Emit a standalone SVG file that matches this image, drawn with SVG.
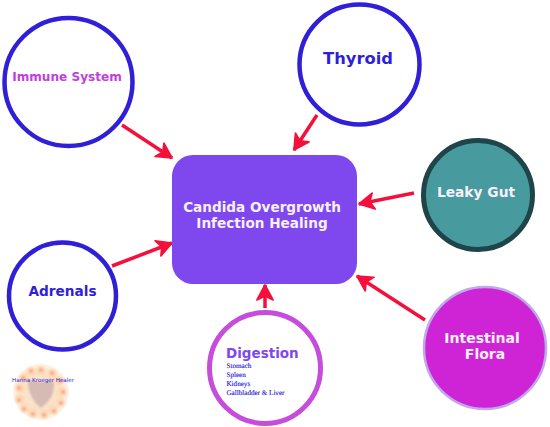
<svg xmlns="http://www.w3.org/2000/svg" width="550" height="427" viewBox="0 0 550 427">
<style>
text{font-family:"DejaVu Sans",sans-serif;font-weight:bold}
.m{text-anchor:middle}
.w{fill:#f7f0fb}
.b{fill:#2f1fd8}
.ring{fill:#fff;stroke:#2f1fd8;stroke-width:4.500}
.c{fill:none;stroke:#f5103c;stroke-width:3.500;marker-end:url(#a)}
.s{font-family:"Liberation Serif",serif;font-size:7.100px;font-weight:normal;fill:#2f1fd8;stroke:#2f1fd8;stroke-width:.15;text-rendering:geometricPrecision}
.o{fill:#fdd9b4;opacity:.9}
.p{fill:#f98f80;opacity:.8}
</style>
<defs>
<marker id="a" markerUnits="userSpaceOnUse" markerWidth="23" markerHeight="23" refX="17" refY="10" orient="auto" viewBox="0 0 20 20">
<path d="M4 3L17 10L4 17L7.500 10Z" fill="#f5103c" stroke="#f5103c" stroke-width="1.500" stroke-linejoin="round"/>
</marker>
<filter id="f" x="-20%" y="-20%" width="140%" height="140%"><feGaussianBlur stdDeviation="1"/></filter>
<radialGradient id="g"><stop offset=".6" stop-color="#fbe2cb"/><stop offset="1" stop-color="#fdf3e6"/></radialGradient>
</defs>
<rect width="550" height="427" fill="#fff"/>
<g id="connectors">
<path class="c" d="M122 125L172 158"/>
<path class="c" d="M317 115L294 150"/>
<path class="c" d="M414 193L359 204"/>
<path class="c" d="M425 320L357 276"/>
<path class="c" d="M112 266L172 243"/>
<path class="c" d="M265 308V285"/>
</g>
<g id="center"><rect x="172" y="155" width="185" height="129" rx="21" fill="#7f48ee"/>
<text class="m w" x="262" y="212" font-size="13.600">Candida Overgrowth</text>
<text class="m w" x="262" y="228" font-size="13.600">Infection Healing</text></g>
<g id="immune"><circle class="ring" cx="68.500" cy="82" r="64"/><text class="m" x="67" y="81" font-size="12.100" fill="#c040dc">Immune System</text></g>
<g id="thyroid"><circle class="ring" cx="359.500" cy="64.500" r="60"/><text class="m b" x="358" y="64" font-size="16.300">Thyroid</text></g>
<g id="leaky"><circle cx="478" cy="195" r="54.500" fill="#479a9e" stroke="#1f4449" stroke-width="5"/><text class="m w" x="476" y="197" font-size="13.800">Leaky Gut</text></g>
<g id="flora"><circle cx="485" cy="348" r="61" fill="#cf24d6" stroke="#c0a8ec" stroke-width="2.500"/>
<text class="m w" x="482" y="343" font-size="14">Intestinal</text><text class="m w" x="485" y="359" font-size="14">Flora</text></g>
<g id="adrenals"><circle class="ring" cx="62.500" cy="296" r="53.500"/><text class="m b" x="62.500" y="296" font-size="13.700">Adrenals</text></g>
<g id="digestion"><circle cx="265" cy="368" r="55.500" fill="#fff" stroke="#c64ddc" stroke-width="5"/>
<text x="226" y="358" font-size="13.500" fill="#7f48ee">Digestion</text>
<text class="s" x="226.500" y="368">Stomach</text><text class="s" x="226.500" y="377">Spleen</text><text class="s" x="226.500" y="386">Kidneys</text><text class="s" x="226.500" y="395">Gallbladder &amp; Liver</text></g>
<g id="logo">
<circle cx="41" cy="392" r="28" fill="url(#g)"/>
<g filter="url(#f)">
<circle class="o" cx="41" cy="371" r="5"/><circle class="o" cx="52" cy="374" r="5"/><circle class="o" cx="59" cy="381" r="5"/><circle class="o" cx="62" cy="392" r="5"/><circle class="o" cx="60" cy="402" r="5"/><circle class="o" cx="53" cy="410" r="5"/><circle class="o" cx="44" cy="414" r="5"/><circle class="o" cx="33" cy="413" r="5"/><circle class="o" cx="25" cy="408" r="5"/><circle class="o" cx="20" cy="399" r="5"/><circle class="o" cx="20" cy="388" r="5"/><circle class="o" cx="24" cy="378" r="5"/><circle class="o" cx="31" cy="372" r="5"/>
<circle class="p" cx="41" cy="370" r="2"/><circle class="p" cx="52" cy="373" r="2"/><circle class="p" cx="60" cy="381" r="2"/><circle class="p" cx="63" cy="392" r="2"/><circle class="p" cx="61" cy="403" r="2"/><circle class="p" cx="54" cy="411" r="2"/><circle class="p" cx="44" cy="415" r="2"/><circle class="p" cx="33" cy="414" r="2"/><circle class="p" cx="24" cy="409" r="2"/><circle class="p" cx="19" cy="400" r="2"/><circle class="p" cx="19" cy="388" r="2"/><circle class="p" cx="23" cy="378" r="2"/><circle class="p" cx="31" cy="371" r="2"/>
</g>
<path d="M28 383Q28 379 35 381Q41 383 47 381Q54 379 54 385Q54 399 41 408Q29 399 28 383Z" fill="#d6bab4" filter="url(#f)"/>
<text x="12" y="382" font-size="5.600" style="font-family:'DejaVu Sans',sans-serif;font-weight:normal" class="b">Hanna Kroeger Healer</text>
</g>
</svg>
